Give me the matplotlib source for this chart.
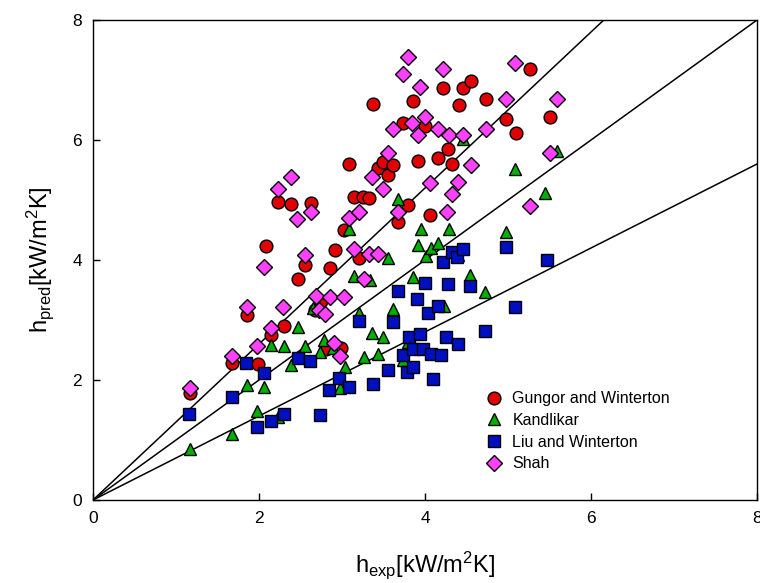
import numpy as np
import matplotlib
matplotlib.use("Agg")
import matplotlib.pyplot as plt

plt.rcParams['font.family'] = ['Liberation Sans', 'DejaVu Sans']
plt.rcParams['mathtext.default'] = 'regular'

# measured vs predicted heat transfer coefficients, kW/m2K
gungor_x = [1.17, 1.67, 1.85, 1.99, 2.08, 2.14, 2.23, 2.30, 2.39, 2.47, 2.55, 2.63, 2.68, 2.75, 2.81,
            2.85, 2.91, 2.99, 3.02, 3.09, 3.14, 3.20, 3.25, 3.33, 3.37, 3.43, 3.49, 3.55, 3.61, 3.67,
            3.73, 3.79, 3.86, 3.92, 4.00, 4.06, 4.16, 4.22, 4.28, 4.33, 4.41, 4.46, 4.55, 4.73, 4.98,
            5.09, 5.27, 5.51]
gungor_y = [1.79, 2.29, 3.09, 2.27, 4.24, 2.75, 4.96, 2.90, 4.94, 3.68, 3.92, 4.95, 3.17, 3.32, 2.51,
            3.87, 4.17, 2.54, 4.50, 5.60, 5.05, 4.03, 5.05, 5.03, 6.60, 5.54, 5.63, 5.41, 5.58, 4.64,
            6.28, 4.91, 6.65, 5.65, 6.23, 4.75, 5.70, 6.86, 5.85, 5.60, 6.58, 6.87, 6.98, 6.68, 6.35,
            6.11, 7.19, 6.39]

kandlikar_x = [1.17, 1.67, 1.85, 1.98, 2.06, 2.14, 2.23, 2.30, 2.39, 2.47, 2.55, 2.65, 2.74, 2.78, 2.89,
               2.97, 3.03, 3.09, 3.14, 3.20, 3.27, 3.34, 3.36, 3.43, 3.49, 3.55, 3.61, 3.67, 3.73, 3.79,
               3.85, 3.91, 3.95, 4.01, 4.07, 4.16, 4.23, 4.29, 4.40, 4.46, 4.54, 4.72, 4.98, 5.08, 5.45,
               5.59]
kandlikar_y = [0.85, 1.10, 1.92, 1.48, 1.89, 2.58, 1.38, 2.57, 2.25, 2.88, 2.57, 3.20, 2.46, 2.67, 2.53,
               1.87, 2.21, 4.51, 3.73, 3.11, 2.39, 3.67, 2.78, 2.44, 2.72, 4.03, 3.18, 5.02, 2.33, 2.63,
               3.72, 4.25, 4.52, 4.07, 4.20, 4.28, 3.24, 4.52, 4.08, 6.01, 3.75, 3.47, 4.46, 5.52, 5.11,
               5.81]

liu_x = [1.16, 1.67, 1.84, 1.98, 2.06, 2.14, 2.30, 2.47, 2.62, 2.74, 2.84, 2.96, 3.08, 3.20, 3.37,
         3.55, 3.61, 3.67, 3.73, 3.78, 3.81, 3.85, 3.86, 3.90, 3.94, 3.97, 4.00, 4.03, 4.07, 4.10,
         4.16, 4.19, 4.22, 4.25, 4.28, 4.32, 4.38, 4.40, 4.46, 4.54, 4.72, 4.98, 5.08, 5.47]
liu_y = [1.43, 1.72, 2.28, 1.21, 2.11, 1.32, 1.44, 2.36, 2.31, 1.42, 1.83, 2.03, 1.89, 2.98, 1.94,
         2.17, 2.96, 3.49, 2.42, 2.13, 2.71, 2.22, 2.52, 3.35, 2.76, 2.52, 3.62, 3.11, 2.44, 2.01,
         3.24, 2.41, 3.96, 2.71, 3.60, 4.14, 4.05, 2.60, 4.18, 3.56, 2.82, 4.21, 3.21, 4.00]

shah_x = [1.17, 1.67, 1.85, 1.98, 2.06, 2.14, 2.23, 2.29, 2.39, 2.46, 2.55, 2.63, 2.69, 2.72, 2.80,
          2.85, 2.90, 2.97, 3.02, 3.08, 3.14, 3.20, 3.27, 3.33, 3.36, 3.43, 3.49, 3.55, 3.61, 3.67,
          3.73, 3.79, 3.84, 3.91, 3.94, 4.00, 4.06, 4.16, 4.22, 4.26, 4.29, 4.33, 4.40, 4.46, 4.55,
          4.73, 4.98, 5.08, 5.27, 5.51, 5.59]
shah_y = [1.86, 2.40, 3.21, 2.56, 3.89, 2.86, 5.19, 3.21, 5.39, 4.69, 4.08, 4.80, 3.40, 3.16, 3.10,
          3.39, 2.61, 2.40, 3.39, 4.70, 4.19, 4.80, 3.69, 4.10, 5.39, 4.10, 5.18, 5.79, 6.18, 4.80,
          7.10, 7.39, 6.29, 6.09, 6.88, 6.39, 5.29, 6.18, 7.18, 4.80, 6.09, 5.10, 5.30, 6.09, 5.59,
          6.18, 6.68, 7.29, 4.90, 5.79, 6.68]

# deviation bands: +30 %, parity, -30 %
slopes = [1.3, 1.0, 0.7]

fig = plt.figure(figsize=(7.6, 5.83), dpi=100)
ax = fig.add_axes([0.1224, 0.1424, 0.8737, 0.8233])

xs = np.array([0.0, 8.0])
for k in slopes:
    ax.plot(xs, k * xs, color='black', lw=1.1, zorder=1)

ms = 9.2
ax.plot(gungor_x, gungor_y, 'o', ms=ms, mfc='#e00000', mec='black', mew=1.0,
        label='Gungor and Winterton', zorder=2)
ax.plot(kandlikar_x, kandlikar_y, '^', ms=ms, mfc='#00b000', mec='black', mew=1.0,
        label='Kandlikar', zorder=3)
ax.plot(liu_x, liu_y, 's', ms=ms - 0.6, mfc='#0010c0', mec='black', mew=1.0,
        label='Liu and Winterton', zorder=4)
ax.plot(shah_x, shah_y, 'D', ms=ms - 1.2, mfc='#ff40ff', mec='black', mew=1.0,
        label='Shah', zorder=5)

ax.set_xlim(0, 8)
ax.set_ylim(0, 8)
ax.set_xticks([0, 2, 4, 6, 8])
ax.set_yticks([0, 2, 4, 6, 8])
ax.tick_params(direction='in', length=5, width=1, labelsize=12.5, pad=8,
               top=False, right=False)
for sp in ax.spines.values():
    sp.set_linewidth(1.0)

ax.set_xlabel('h$_{exp}$[kW/m$^2$K]', fontsize=17, labelpad=17)
ax.set_ylabel('h$_{pred}$[kW/m$^2$K]', fontsize=17, labelpad=12)

ax.legend(loc='upper left', bbox_to_anchor=(0.58, 0.24), frameon=False, fontsize=11.5,
          handletextpad=0.55, labelspacing=0.42, borderaxespad=0, handlelength=1.2)

fig.savefig('out.png', dpi=100)
